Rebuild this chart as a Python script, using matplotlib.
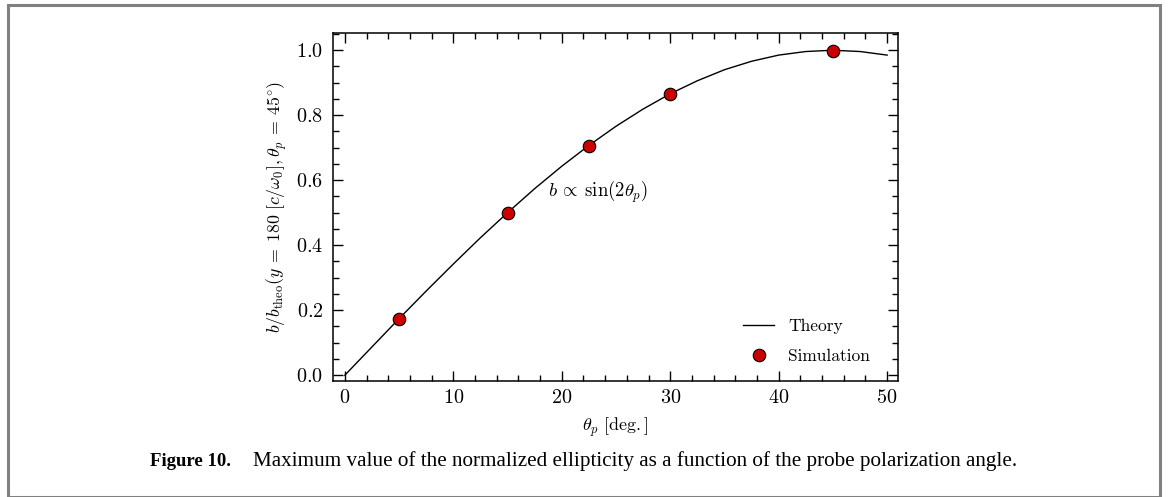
import matplotlib.pyplot as plt
from matplotlib.patches import Rectangle
from matplotlib.ticker import MultipleLocator

# Theory curve
theory_angle = [0, 2.5, 5, 7.5, 10, 12.5, 15, 17.5, 20, 22.5, 25, 27.5, 30,
                32.5, 35, 37.5, 40, 42.5, 45, 47.5, 50]
theory_b = [0.0, 0.087, 0.174, 0.259, 0.342, 0.423, 0.5, 0.574, 0.643, 0.707,
            0.766, 0.819, 0.866, 0.906, 0.94, 0.966, 0.985, 0.996, 1.0, 0.996, 0.985]

# Simulation points
sim_angle = [5, 15, 22.5, 30, 45]
sim_b = [0.172, 0.498, 0.705, 0.865, 0.998]

plt.rcParams['font.family'] = 'serif'
plt.rcParams['font.serif'] = ['cmr10']
plt.rcParams['mathtext.fontset'] = 'cm'
plt.rcParams['axes.formatter.use_mathtext'] = True
plt.rcParams['font.size'] = 13

fig = plt.figure(figsize=(11.74, 4.97), dpi=100)
ax = fig.add_axes([0.2836, 0.2334, 0.4813, 0.7002])

ax.plot(theory_angle, theory_b, color='black', lw=1.0, label='Theory')
ax.plot(sim_angle, sim_b, 'o', color='#cc0000', mec='black', mew=0.8,
        ms=9, label='Simulation', zorder=3)

ax.set_xlim(-1.1, 51)
ax.set_ylim(-0.018, 1.053)
ax.xaxis.set_major_locator(MultipleLocator(10))
ax.xaxis.set_minor_locator(MultipleLocator(2))
ax.yaxis.set_major_locator(MultipleLocator(0.2))
ax.yaxis.set_minor_locator(MultipleLocator(0.05))
ax.tick_params(which='both', direction='in', top=True, right=True, width=1,
               labelsize=14.5)
ax.tick_params(which='major', length=7)
ax.tick_params(which='minor', length=4)
ax.tick_params(axis='x', pad=6)
ax.tick_params(axis='y', pad=7)
for s in ax.spines.values():
    s.set_linewidth(1.1)

ax.set_xlabel(r'$\theta_p\ [\mathrm{deg.}]$', labelpad=6)
ax.set_ylabel(r'$b/b_{\rm theo}(y\:=\:180\ [c/\omega_0], \theta_p\:=\:45^{\circ})$',
              labelpad=5, fontsize=12.8)

ax.text(18.7, 0.565, r'$b\:\propto\:\sin(2\theta_p)$', va='center', ha='left',
        fontsize=13.5)

ax.legend(loc='lower right', frameon=False, bbox_to_anchor=(0.978, 0.005),
          handlelength=1.8, labelspacing=0.8, fontsize=12.5)

# caption and outer frame
fig.text(0.128, 0.072, 'Figure 10.', fontfamily='Liberation Serif',
         fontweight='bold', fontsize=13.5, va='center', ha='left')
fig.text(0.2155, 0.072,
         'Maximum value of the normalized ellipticity as a function of the probe polarization angle.',
         fontfamily='Liberation Serif', fontsize=15.2, va='center', ha='left')
fig.patches.append(Rectangle((0.0068, 0.0), 0.9813, 0.99, transform=fig.transFigure,
                             fill=False, edgecolor='#808080', lw=2.2))

fig.savefig('out.png', dpi=100)
